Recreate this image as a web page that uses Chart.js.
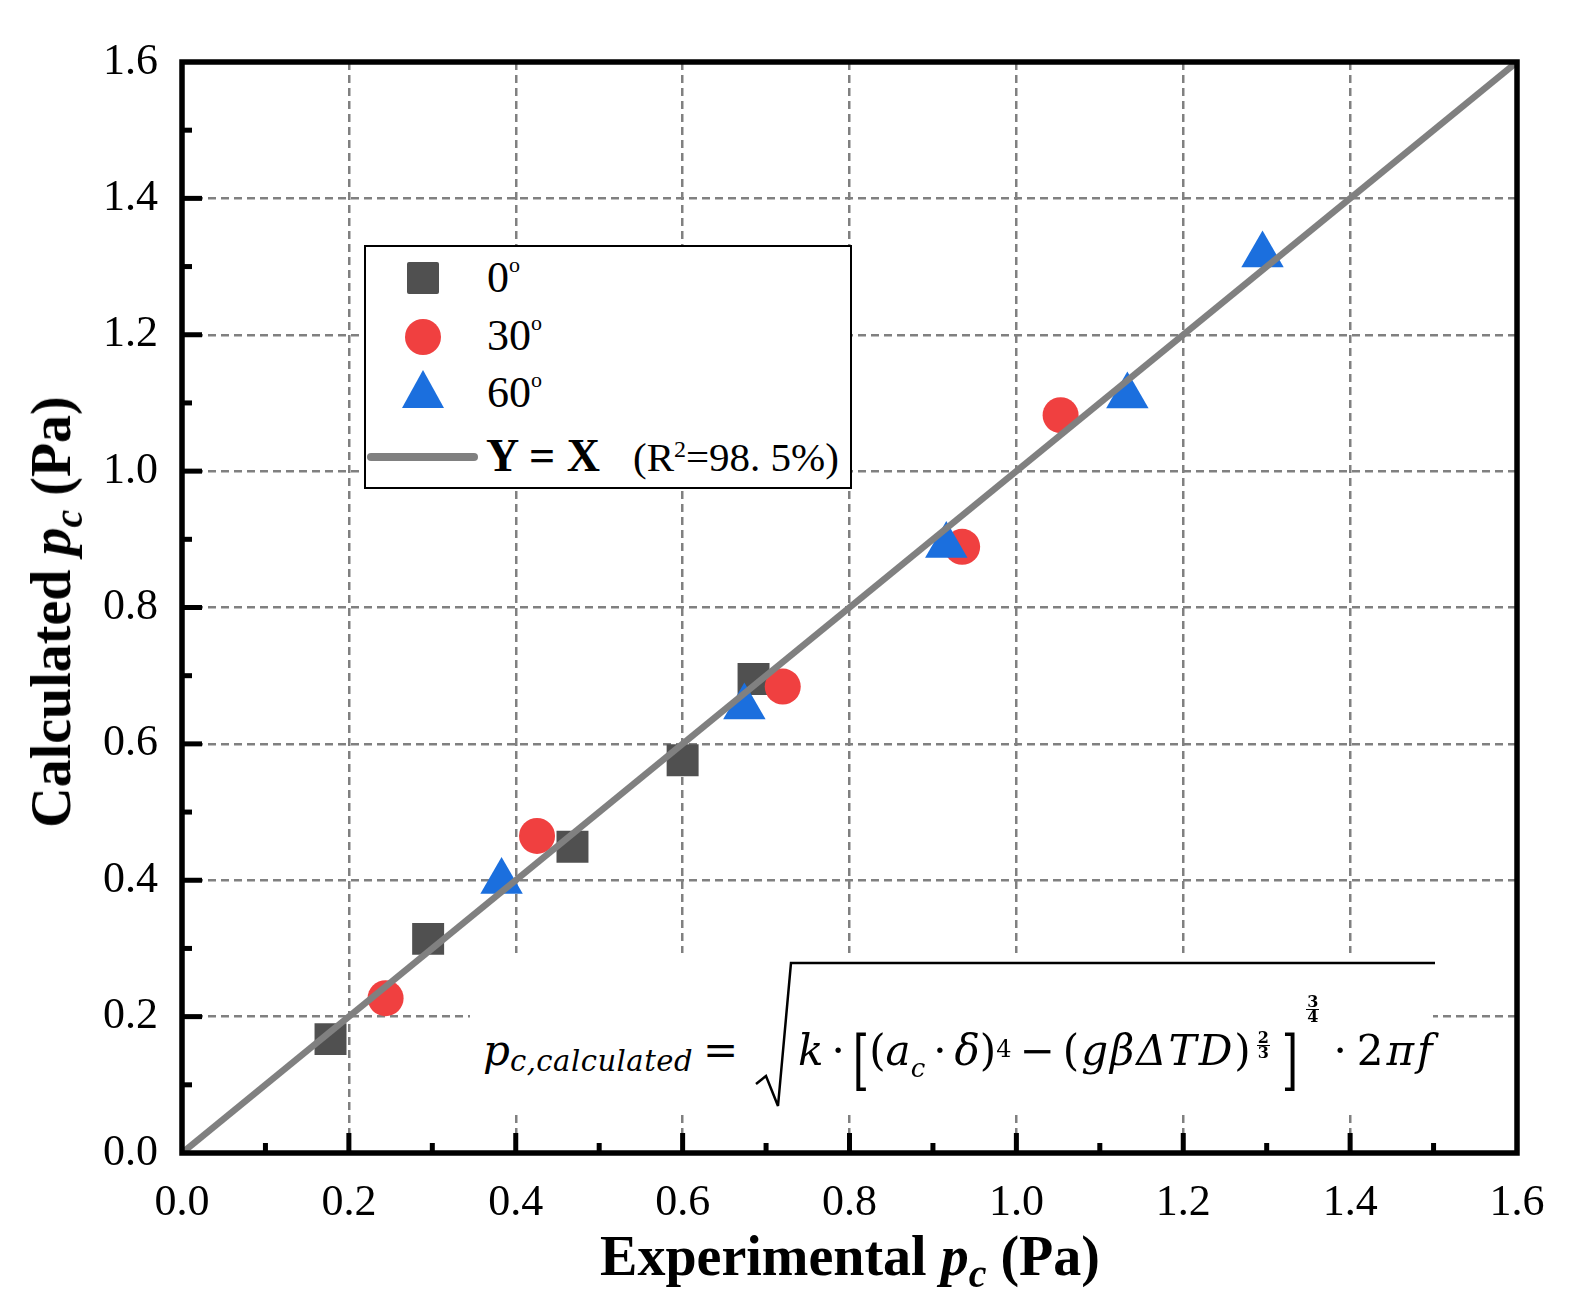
<!DOCTYPE html>
<html><head><meta charset="utf-8">
<script src="https://cdn.jsdelivr.net/npm/chart.js@4.4.1/dist/chart.umd.min.js"></script>
<style>
html,body{margin:0;padding:0;background:#fff;}
#wrap{position:relative;width:1571px;height:1314px;overflow:hidden;font-family:"Liberation Serif","Times New Roman",serif;color:#000;}
canvas{position:absolute;left:0;top:0;}
.abs{position:absolute;white-space:nowrap;line-height:1;}
.ttl{font-weight:bold;font-size:56px;}
.ttl i{font-style:italic;}
.ttl .sb{font-size:40px;font-style:italic;position:relative;top:12px;}
#legend{position:absolute;left:364px;top:245px;width:484px;height:240px;border:2.5px solid #000;background:#fff;}
.mk{position:absolute;}
.lt{position:absolute;white-space:nowrap;line-height:1;font-size:44px;}
.lt .dg{font-size:22px;position:relative;top:-20px;}
#fbox{position:absolute;left:470px;top:953px;width:963px;height:160px;background:#fff;}
.fm{font-family:"DejaVu Serif",serif;font-size:42px;}
.fm i{font-style:italic;}
.op{margin:0 8px;font-style:normal;}
.sbs{font-size:26px;position:relative;top:12px;font-style:italic;}
.sps{font-size:24px;position:relative;top:-8px;}
.big{display:inline-block;transform:translateY(9px) scaleY(1.55);font-style:normal;}
.fr{display:inline-flex;flex-direction:column;align-items:center;font-size:16px;font-weight:bold;font-style:normal;position:relative;line-height:0.85;margin:0 2px;}
.fr .d{border-top:1.5px solid #000;padding:0 1px;}
</style></head>
<body><div id="wrap">
<canvas id="c" width="1571" height="1314"></canvas>

<div class="abs ttl" id="xt" style="left:850px;top:1228px;transform:translateX(-50%);">Experimental <i>p</i><span class="sb">c</span> (Pa)</div>
<div class="abs ttl" id="yt" style="left:51px;top:612px;transform:translate(-50%,-50%) rotate(-90deg);">Calculated <i>p</i><span class="sb">c</span> (Pa)</div>

<div id="legend"></div>
<div class="mk" style="left:407px;top:262px;width:32px;height:32px;background:#505050;border-radius:2px;"></div>
<div class="mk" style="left:405px;top:319px;width:36px;height:36px;background:#F04040;border-radius:50%;"></div>
<div class="mk" style="left:402px;top:370px;width:42px;height:38px;background:#1B6FDE;clip-path:polygon(50% 0,100% 100%,0 100%);"></div>
<div class="mk" style="left:367px;top:453px;width:111px;height:8px;background:#808080;border-radius:4px;"></div>
<div class="lt" style="left:487px;top:256px;">0<span class="dg">o</span></div>
<div class="lt" style="left:487px;top:314px;">30<span class="dg">o</span></div>
<div class="lt" style="left:487px;top:371px;">60<span class="dg">o</span></div>
<div class="lt" style="left:486px;top:433px;font-weight:bold;font-size:46px;">Y = X</div>
<div class="lt" style="left:633px;top:437px;font-size:41px;">(R<span style="font-size:24px;position:relative;top:-14px;">2</span>=98. 5%)</div>

<div id="fbox"></div>
<svg class="abs" style="left:0;top:0;" width="1571" height="1314">
<path d="M756,1084 L766,1076 L778,1106 L791,963 L1435,963" fill="none" stroke="#000" stroke-width="2.5" stroke-linejoin="miter"/>
</svg>
<div class="abs fm" style="left:483px;top:1030px;"><i>p</i><span style="font-size:29px;position:relative;top:6px;font-style:italic;letter-spacing:0.5px;">c,calculated</span></div>
<div class="abs fm" style="left:703px;top:1030px;">=</div>
<div class="abs fm" id="inner" style="left:798px;top:1030px;"><i>k</i><span class="op">·</span><span class="big">[</span>(<i>a</i><span class="sbs">c</span><span class="op">·</span><i>δ</i>)<span class="sps">4</span><span class="op">−</span><span style="letter-spacing:2px;">(<i>gβΔTD</i>)</span><span class="fr" style="top:-22px;margin:0 12px 0 4px;"><span>2</span><span class="d">3</span></span><span class="big">]</span><span class="fr" style="top:-58px;margin:0 4px 0 8px;"><span>3</span><span class="d">4</span></span><span class="op" style="margin:0 10px;">·</span><span style="letter-spacing:3px;">2<i>πf</i></span></div>
</div>
<script>
const seriesNames = ['0o', '30o', '60o'];
const sq_x = [0.178, 0.295, 0.468, 0.600, 0.685];
const sq_y = [0.167, 0.314, 0.449, 0.576, 0.695];
const ci_x = [0.244, 0.4255, 0.720, 0.935, 1.053];
const ci_y = [0.227, 0.465, 0.684, 0.889, 1.082];
const tr_x = [0.383, 0.674, 0.916, 1.133, 1.295];
const tr_y = [0.398, 0.654, 0.891, 1.110, 1.317];
const fit_x = [0, 1.6];
const fit_y = [0, 1.6];
const axisMin = 0, axisMax = 1.6, majorStep = 0.2, minorStep = 0.1;

const pts = (xs, ys) => xs.map((x, i) => ({x, y: ys[i]}));

const frameTicks = {
  id: 'frameTicks',
  afterDraw(chart) {
    const {ctx, chartArea: a, scales: {x, y}} = chart;
    ctx.save();
    ctx.fillStyle = '#000';
    const n = Math.round((axisMax - axisMin) / minorStep);
    for (let i = 1; i < n; i++) {
      const v = axisMin + i * minorStep;
      const major = i % 2 === 0;
      const len = major ? 20 : 10;
      const px = x.getPixelForValue(v);
      ctx.fillRect(px - 2.5, a.bottom - len, 5, len);
      const py = y.getPixelForValue(v);
      ctx.fillRect(a.left, py - 2.5, len, 5);
    }
    ctx.strokeStyle = '#000';
    ctx.lineWidth = 5.5;
    ctx.strokeRect(a.left, a.top, a.right - a.left, a.bottom - a.top);
    ctx.restore();
  }
};

const tickFont = {family: 'Liberation Serif', size: 44};
new Chart(document.getElementById('c'), {
  type: 'scatter',
  data: {
    datasets: [
      {type: 'line', label: 'Y = X', data: pts(fit_x, fit_y), borderColor: '#808080', borderWidth: 6.5, pointRadius: 0, fill: false, order: 0, borderCapStyle: 'butt'},
      {label: seriesNames[2], data: pts(tr_x, tr_y), pointStyle: 'triangle', pointRadius: 24.5, backgroundColor: '#1B6FDE', borderWidth: 0, order: 1},
      {label: seriesNames[1], data: pts(ci_x, ci_y), pointStyle: 'circle', pointRadius: 18, backgroundColor: '#F04040', borderWidth: 0, order: 2},
      {label: seriesNames[0], data: pts(sq_x, sq_y), pointStyle: 'rect', pointRadius: 22.6, backgroundColor: '#505050', borderWidth: 0, order: 3}
    ]
  },
  options: {
    responsive: false, devicePixelRatio: 1, animation: false, events: [],
    layout: {padding: {left: 0, right: 54, top: 62, bottom: 0}},
    plugins: {legend: {display: false}, tooltip: {enabled: false}},
    scales: {
      x: {
        type: 'linear', min: axisMin, max: axisMax,
        afterFit: s => { s.height = 161; },
        ticks: {stepSize: majorStep, font: tickFont, color: '#000', padding: 24, maxRotation: 0, callback: v => v.toFixed(1)},
        grid: {color: '#808080', lineWidth: 2.5, drawTicks: false},
        border: {display: false, dash: [8, 5]}
      },
      y: {
        type: 'linear', min: axisMin, max: axisMax,
        afterFit: s => { s.width = 182; },
        ticks: {stepSize: majorStep, font: tickFont, color: '#000', padding: 24, callback: v => v.toFixed(1)},
        grid: {color: '#808080', lineWidth: 2.5, drawTicks: false},
        border: {display: false, dash: [8, 5]}
      }
    }
  },
  plugins: [frameTicks]
});
</script>
</body></html>
